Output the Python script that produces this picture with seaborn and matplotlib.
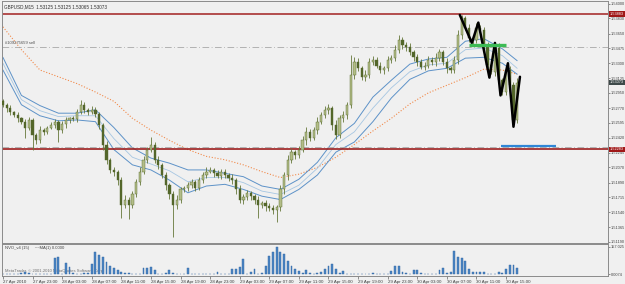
import numpy as np
import pandas as pd
import matplotlib
matplotlib.use("Agg")
import matplotlib.pyplot as plt
import matplotlib.transforms as mtransforms
import seaborn as sns

# ---------------- data ----------------
title_text = "GBPUSD,M15  1.53125 1.53125 1.53065 1.53073"
first_open = 1.5285
closes = [
    1.5281, 1.5277, 1.5272, 1.5269, 1.5265, 1.5261, 1.5254, 1.5263, 1.5245, 1.5239,
    1.5251, 1.5249, 1.5254, 1.5257, 1.5261, 1.5251, 1.5258, 1.5263, 1.5265, 1.5264,
    1.5272, 1.5281, 1.5275, 1.5272, 1.5275, 1.5270, 1.5257, 1.5234, 1.5216, 1.5204,
    1.5202, 1.5192, 1.5163, 1.5169, 1.5163, 1.5175, 1.5190, 1.5202, 1.5216, 1.5228,
    1.5234, 1.5216, 1.5210, 1.5198, 1.5186, 1.5175, 1.5163, 1.5169, 1.5181, 1.5183,
    1.5186, 1.5190, 1.5183, 1.5192, 1.5198, 1.5202, 1.5204, 1.5200, 1.5197, 1.5202,
    1.5198, 1.5195, 1.5192, 1.5181, 1.5169, 1.5172, 1.5177, 1.5173, 1.5169, 1.5163,
    1.5165, 1.5161, 1.5159, 1.5157, 1.5160, 1.5181, 1.5198, 1.5216, 1.5225, 1.5222,
    1.5228, 1.5239, 1.5249, 1.5242, 1.5251, 1.5261, 1.5269, 1.5275, 1.5277, 1.5257,
    1.5245, 1.5265, 1.5269, 1.5281, 1.5316, 1.5332, 1.5324, 1.5314, 1.5316, 1.5332,
    1.5334, 1.5327, 1.5322, 1.5324, 1.5334, 1.5336, 1.5346, 1.5357, 1.5352, 1.5349,
    1.5343, 1.5337, 1.5332, 1.5326, 1.5327, 1.5334, 1.5332, 1.5336, 1.5343, 1.5332,
    1.5324, 1.5322, 1.5334, 1.5363, 1.5383, 1.5372, 1.5360, 1.5357, 1.5372, 1.5369,
    1.5352, 1.5328, 1.5320, 1.5348, 1.5310, 1.5296, 1.5322, 1.5304, 1.5263, 1.5307,
]
# upper / lower wick lengths in pips
upper_wick = [
    3, 2, 4, 2, 3, 2, 3, 4, 2, 3,
    5, 3, 2, 4, 3, 2, 4, 3, 2, 3,
    4, 6, 3, 2, 4, 3, 2, 3, 4, 2,
    3, 2, 4, 5, 3, 4, 3, 5, 4, 3,
    9, 3, 4, 2, 3, 3, 4, 5, 3, 2,
    4, 3, 2, 4, 3, 5, 3, 2, 4, 3,
    3, 2, 4, 3, 5, 4, 3, 2, 3, 4,
    2, 3, 4, 3, 2, 5, 4, 6, 5, 3,
    4, 5, 6, 3, 4, 5, 3, 4, 5, 3,
    6, 4, 5, 3, 24, 5, 4, 3, 6, 4,
    5, 3, 4, 3, 5, 4, 6, 6, 4, 3,
    5, 3, 4, 3, 5, 4, 3, 6, 4, 3,
    4, 3, 5, 6, 4, 3, 4, 3, 5, 3,
    4, 3, 5, 4, 6, 3, 4, 5, 4, 5,
]
lower_wick = [
    3, 4, 3, 2, 4, 3, 12, 3, 17, 4,
    3, 4, 3, 2, 4, 14, 3, 4, 3, 2,
    3, 2, 4, 3, 2, 4, 5, 6, 5, 4,
    5, 6, 16, 4, 17, 4, 3, 4, 3, 4,
    3, 4, 5, 4, 6, 5, 38, 5, 4, 3,
    4, 3, 4, 3, 4, 3, 2, 4, 3, 4,
    3, 4, 5, 6, 4, 5, 3, 4, 5, 16,
    4, 5, 4, 5, 14, 4, 5, 6, 4, 5,
    4, 3, 5, 4, 3, 4, 3, 4, 5, 6,
    5, 3, 4, 5, 4, 5, 3, 4, 5, 3,
    4, 3, 4, 5, 3, 4, 3, 4, 5, 4,
    3, 4, 5, 3, 4, 3, 4, 5, 3, 4,
    5, 4, 3, 5, 4, 3, 5, 4, 3, 4,
    5, 4, 3, 5, 4, 3, 4, 5, 5, 3,
]
volume = [
    2, 1, 3, 2, 1, 5, 10, 4, 3, 2,
    2, 1, 3, 2, 93, 99, 3, 64, 40, 5,
    3, 2, 4, 6, 58, 128, 110, 99, 70, 46,
    35, 23, 12, 8, 4, 2, 3, 2, 35, 35,
    40, 25, 3, 2, 4, 23, 5, 2, 3, 2,
    35, 3, 2, 1, 2, 3, 1, 2, 12, 2,
    3, 2, 29, 29, 40, 87, 3, 10, 29, 3,
    8, 46, 105, 128, 157, 128, 116, 75, 46, 29,
    17, 6, 23, 4, 3, 5, 12, 29, 46, 58,
    29, 6, 17, 2, 3, 1, 2, 1, 2, 3,
    5, 1, 2, 1, 2, 17, 46, 46, 12, 6,
    2, 23, 23, 8, 1, 2, 1, 3, 23, 35,
    8, 14, 133, 99, 93, 75, 29, 12, 14, 10,
    14, 3, 3, 3, 10, 6, 29, 52, 52, 35,
]

# moving averages sampled at these bar numbers (M15 bars)
ma_bars = [0, 10, 20, 30, 40, 50, 60, 70, 80, 90, 100, 110, 120, 130, 140, 150, 160,
           170, 180, 190, 200, 210, 220, 230, 240, 250, 260, 270, 278]
ma_upper = [1.5337, 1.5292, 1.5280, 1.5271, 1.5271, 1.5275, 1.5254, 1.5230, 1.5218, 1.5212,
            1.5204, 1.5204, 1.5200, 1.5196, 1.5185, 1.5181, 1.5193, 1.5213, 1.5242, 1.5259,
            1.5290, 1.5310, 1.5329, 1.5335, 1.5337, 1.5356, 1.5359, 1.5347, 1.5333]
ma_mid = [1.5330, 1.5287, 1.5274, 1.5267, 1.5268, 1.5268, 1.5241, 1.5219, 1.5211, 1.5203,
          1.5190, 1.5195, 1.5195, 1.5189, 1.5179, 1.5175, 1.5186, 1.5206, 1.5234, 1.5249,
          1.5277, 1.5301, 1.5320, 1.5328, 1.5330, 1.5346, 1.5348, 1.5339, 1.5324]
ma_lower = [1.5322, 1.5281, 1.5268, 1.5262, 1.5263, 1.5261, 1.5228, 1.5210, 1.5204, 1.5192,
            1.5177, 1.5185, 1.5187, 1.5181, 1.5173, 1.5169, 1.5181, 1.5198, 1.5225, 1.5237,
            1.5261, 1.5289, 1.5311, 1.5321, 1.5324, 1.5336, 1.5337, 1.5330, 1.5317]
ma_slow = [1.5373, 1.5346, 1.5322, 1.5314, 1.5306, 1.5296, 1.5285, 1.5265, 1.5251, 1.5239,
           1.5228, 1.5220, 1.5216, 1.5210, 1.5202, 1.5195, 1.5199, 1.5207, 1.5219, 1.5234,
           1.5250, 1.5265, 1.5282, 1.5295, 1.5304, 1.5313, 1.5323, 1.5322, 1.5317]

zigzag_bars = [247, 253.5, 257, 263, 266, 269, 273, 276, 279.5]
zigzag_prices = [1.5387, 1.5354, 1.5378, 1.5313, 1.5354, 1.5292, 1.5330, 1.5255, 1.5314]

resistance_top = 1.53883
resistance_bottom = 1.52283
order_price = 1.5349
order_label = "#109275659 sell"
lower_dashdot = 1.5231
last_price = 1.53073
green_level = (1.5351, 252, 272)
blue_level = (1.5232, 269, 299)

price_ticks = [1.54000, 1.53830, 1.53650, 1.53475, 1.53300, 1.53125, 1.52950, 1.52770,
               1.52595, 1.52420, 1.52245, 1.52070, 1.51890, 1.51715, 1.51540, 1.51365, 1.51190]
time_labels = ["27 Apr 2010", "27 Apr 23:00", "28 Apr 03:00", "28 Apr 07:00", "28 Apr 11:00",
               "28 Apr 15:00", "28 Apr 19:00", "28 Apr 23:00", "29 Apr 03:00", "29 Apr 07:00",
               "29 Apr 11:00", "29 Apr 15:00", "29 Apr 19:00", "29 Apr 23:00", "30 Apr 03:00",
               "30 Apr 07:00", "30 Apr 11:00", "30 Apr 15:00"]
bars_per_label = 16
vol_label = "NVO_v4 (15)     ~~MA(1) 0.0000"
vol_max_label = "157.025"
vol_min_label = "0.0074"
watermark = "MetaTrader, \u00a9 2001-2010 MetaQuotes Software Corp."

# ---------------- figure ----------------
sns.set_theme(style="white")
plt.rcParams['font.family'] = ['Liberation Sans Narrow', 'Liberation Sans', 'DejaVu Sans']

W, H = 625, 284
BG = '#f0f0f0'
TXT = '#404040'
fig = plt.figure(figsize=(W / 100, H / 100), dpi=100, facecolor=BG)


def rect(l, t, r, b):
    return [l / W, 1 - b / H, (r - l) / W, (b - t) / H]


ax = fig.add_axes(rect(2, 1, 608, 243))
axv = fig.add_axes(rect(2, 244, 608, 276), sharex=ax)
for a in (ax, axv):
    a.set_facecolor(BG)
    for s in a.spines.values():
        s.set_color('#8a8a8a')
        s.set_linewidth(0.7)

n = len(closes)
bars = 2 * np.arange(n)
c = np.array(closes)
o = np.array([first_open] + closes[:-1])
hi = np.maximum(o, c) + np.array(upper_wick) * 1e-4
lo = np.minimum(o, c) - np.array(lower_wick) * 1e-4
body_lo = np.minimum(o, c)
body_h = np.maximum(np.abs(c - o), 0.00004)
cols = np.where(c >= o, '#b3bd88', '#53662a')

# moving averages
df_ma = pd.DataFrame({'bar': ma_bars, 'upper': ma_upper, 'mid': ma_mid,
                      'lower': ma_lower, 'slow': ma_slow})
sns.lineplot(data=df_ma, x='bar', y='slow', ax=ax, color='#f08a4b', lw=0.8,
             linestyle=(0, (1, 1.6)))
sns.lineplot(data=df_ma, x='bar', y='upper', ax=ax, color='#5d92c8', lw=0.7)
sns.lineplot(data=df_ma, x='bar', y='mid', ax=ax, color='#a6c6e2', lw=0.6)
sns.lineplot(data=df_ma, x='bar', y='lower', ax=ax, color='#5d92c8', lw=0.7)

# horizontal levels
ax.axhline(order_price, color='#a8a8a8', lw=0.6, ls=(0, (8, 3, 1, 3)))
ax.axhline(lower_dashdot, color='#a8a8a8', lw=0.6, ls=(0, (8, 3, 1, 3)))
ax.axhline(resistance_top, color='#a83232', lw=1.2)
ax.axhline(resistance_bottom, color='#9c1f1f', lw=1.2)

# candles
ax.vlines(bars, lo, hi, color='#66783a', lw=0.6, zorder=3)
ax.bar(bars, body_h, bottom=body_lo, width=1.2, color=cols, edgecolor='#55682a',
       linewidth=0.3, zorder=4)

# zigzag & drawn segments
sns.lineplot(x=zigzag_bars, y=zigzag_prices, ax=ax, color='black', lw=1.8, sort=False,
             zorder=6)
ax.hlines(green_level[0], green_level[1], green_level[2], color='#3dbb55', lw=2.4, zorder=7)
ax.hlines(blue_level[0], blue_level[1], blue_level[2], color='#2f86d6', lw=1.6, zorder=7)

ax.set_xlim(-0.5, 327.1)
ax.set_ylim(1.51177, 1.54035)
ax.set_xlabel('')
ax.set_ylabel('')
ax.yaxis.tick_right()
ax.set_yticks(price_ticks)
ax.set_yticklabels([f'{t:.5f}' for t in price_ticks])
ax.tick_params(axis='y', labelsize=2.8, length=1.5, width=0.4, pad=0.5, colors=TXT,
               direction='out', right=True, left=False)
ax.tick_params(axis='x', labelbottom=False, length=0)

blend = mtransforms.blended_transform_factory(ax.transAxes, ax.transData)
for val, fc in [(resistance_top, '#a01818'), (resistance_bottom, '#a01818'),
                (last_price, '#3e4a4a')]:
    ax.text(1.003, val, f'{val:.5f}', transform=blend, ha='left', va='center',
            fontsize=2.8, color='white', clip_on=False, zorder=10,
            bbox=dict(boxstyle='square,pad=0.2', fc=fc, ec='none'))

ax.text(0.003, 0.985, title_text, transform=ax.transAxes, ha='left', va='top',
        fontsize=3.3, color='#303030')
ax.text(1, order_price + 0.0002, order_label, ha='left', va='bottom', fontsize=3.0,
        color='#505050')

# volume
axv.bar(bars, volume, width=1.0, color='#4c86c4', edgecolor='#2f64a0', linewidth=0.3)
axv.set_ylim(-11, 174)
axv.yaxis.tick_right()
axv.set_yticks([157.025, 0])
axv.set_yticklabels([vol_max_label, vol_min_label])
axv.tick_params(axis='y', labelsize=2.8, length=1.5, width=0.4, pad=0.5, colors=TXT,
                right=True, left=False)
axv.set_xticks([bars_per_label * k for k in range(len(time_labels))])
axv.set_xticklabels(time_labels, ha='left')
axv.tick_params(axis='x', labelsize=3.2, length=2, width=0.4, pad=1, colors=TXT,
                bottom=True)
axv.text(0.005, 0.93, vol_label, transform=axv.transAxes, ha='left', va='top',
         fontsize=3.0, color=TXT)
axv.text(0.005, 0.08, watermark, transform=axv.transAxes, ha='left', va='bottom',
         fontsize=3.0, color='#707070', zorder=0)
axv.set_xlabel('')
axv.set_ylabel('')

fig.savefig('out.png', dpi=100, facecolor=BG)
